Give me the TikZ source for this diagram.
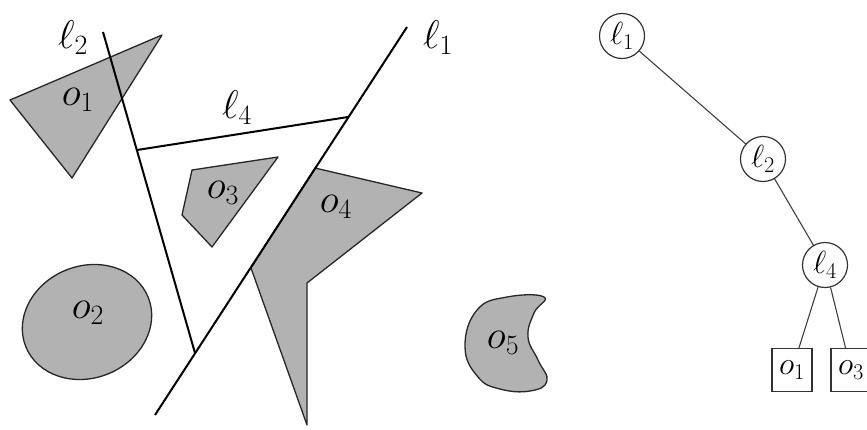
\RequirePackage{fix-cm}
\documentclass[tikz,border=0pt]{standalone}
\begin{document}
\begin{tikzpicture}[x=1pt,y=-1pt,
  obst/.style={fill=black!30,draw=black!85,line width=1.3pt,line join=round},
  cut/.style={draw=black,line width=2pt},
  lab/.style={font=\fontsize{40}{46}\selectfont,inner sep=0pt},
  inner/.style={circle,draw=black!80,line width=1.2pt,minimum size=45pt,inner sep=0pt,font=\fontsize{32}{38}\selectfont},
  leaf/.style={rectangle,draw=black!80,line width=1.2pt,minimum width=40pt,minimum height=43pt,inner sep=0pt,font=\fontsize{32}{38}\selectfont},
  edge/.style={draw=black!75,line width=1.1pt}]
\useasboundingbox (0,0) rectangle (867,429);
\clip (0,0) rectangle (867,429);
% obstacles
\draw[obst] (10,100) -- (162,35) -- (72,178) -- cycle;
\draw[obst] (87,322) ellipse [x radius=66, y radius=56, rotate=22];
\draw[obst] (192,170) -- (278,157) -- (212,247) -- (182,215) -- cycle;
\draw[obst] (315,168) -- (422,193) -- (307,283) -- (307,425) -- (251,268) -- cycle;
\draw[obst] plot[smooth cycle, tension=0.75] coordinates {(544,297) (507,297) (477,310) (465,347) (478,377) (500,389) (530,391) (547,381) (538,360) (528,337) (534,313)};
% cutting lines
\coordinate (l1a) at (407,27);
\coordinate (l1b) at (155,415);
\coordinate (l2a) at (103,32);
\coordinate (l2b) at (195,353);
\coordinate (l4a) at (137,150);
\coordinate (l4b) at (348,117);
\draw[cut] (l1a) -- (l1b);
\draw[cut] (l2a) -- (l2b);
\draw[cut] (l4a) -- (l4b);
% labels
\node[lab] (tl2) at (73,38) {$\ell_2$};
\node[lab] (tl1) at (438,38) {$\ell_1$};
\node[lab] (tl4) at (237,108) {$\ell_4$};
\node[lab] (to1) at (78,100) {$o_1$};
\node[lab] (to2) at (88,313) {$o_2$};
\node[lab] (to3) at (223,193) {$o_3$};
\node[lab] (to4) at (336,207) {$o_4$};
\node[lab] (to5) at (503,343) {$o_5$};
% tree
\node[inner] (n1) at (622,36) {$\ell_1$};
\node[inner] (n2) at (763,159) {$\ell_2$};
\node[inner] (n4) at (825,265) {$\ell_4$};
\node[leaf] (m1) at (792,370) {$o_1$};
\node[leaf] (m3) at (851,370) {$o_3$};
\draw[edge] (n1) -- (n2);
\draw[edge] (n2) -- (n4);
\draw[edge] (n4) -- (m1);
\draw[edge] (n4) -- (m3);
\end{tikzpicture}
\end{document}
